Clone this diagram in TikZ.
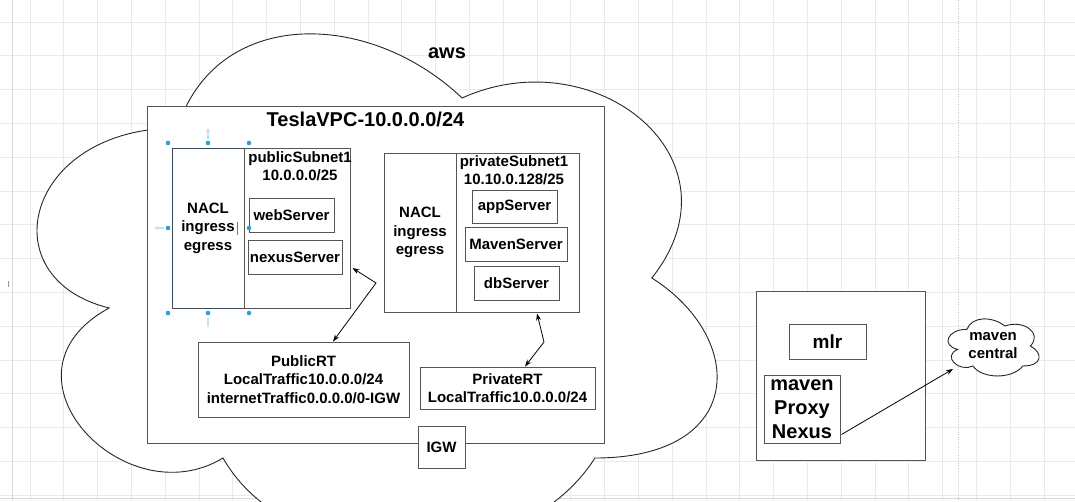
\documentclass[tikz,border=0pt]{standalone}
\usepackage{fontspec}
\setmainfont{Liberation Sans}
\usetikzlibrary{arrows.meta,calc}
\definecolor{gridc}{HTML}{EAEAEA}
\definecolor{hdl}{HTML}{2AA0D8}
\definecolor{hdlf}{HTML}{C6E2F1}
\definecolor{edge}{HTML}{555555}
\definecolor{naclc}{HTML}{3C4A58}
\newcommand{\mxcloud}[5]{%
 \draw[#1] ({#2+0.25*#4},{#3+0.25*#5})
 .. controls ({#2+0.05*#4},{#3+0.25*#5}) and ({#2},{#3+0.5*#5}) .. ({#2+0.16*#4},{#3+0.55*#5})
 .. controls ({#2},{#3+0.66*#5}) and ({#2+0.18*#4},{#3+0.9*#5}) .. ({#2+0.31*#4},{#3+0.8*#5})
 .. controls ({#2+0.4*#4},{#3+#5}) and ({#2+0.7*#4},{#3+#5}) .. ({#2+0.8*#4},{#3+0.8*#5})
 .. controls ({#2+#4},{#3+0.8*#5}) and ({#2+#4},{#3+0.6*#5}) .. ({#2+0.875*#4},{#3+0.5*#5})
 .. controls ({#2+#4},{#3+0.3*#5}) and ({#2+0.8*#4},{#3+0.1*#5}) .. ({#2+0.625*#4},{#3+0.2*#5})
 .. controls ({#2+0.5*#4},{#3+0.05*#5}) and ({#2+0.3*#4},{#3+0.05*#5}) .. cycle;}
\newcommand{\ftb}[2]{\fontsize{#1}{#2}\selectfont\bfseries}
\tikzset{
  boxn/.style={draw=edge, line width=1pt, fill=white, inner sep=0pt, align=center, font=\ftb{15}{18.5}},
  txt/.style={inner sep=0pt, align=center, font=\ftb{15}{18}},
  conn/.style={line width=0.8pt, black, >={Stealth[length=7pt,width=5pt]}},
  handle/.style={fill=hdl},
}
\begin{document}
\begin{tikzpicture}[x=1pt,y=-1pt]
\useasboundingbox (0,0) rectangle (1075,501);
\clip (0,0) rectangle (1075,501);
\fill[white] (0,0) rectangle (1075,501);
% grid
\foreach \i in {0,...,31} \draw[gridc, line width=0.8pt] ({-3.8+33.8*\i},0) -- ++(0,501);
\foreach \i in {0,...,14} \draw[gridc, line width=0.8pt] (0,{22+33.8*\i}) -- ++(1075,0);
\draw[black!22, line width=0.6pt, dotted] (958,0) -- (958,501);
\draw[black!15, line width=0.8pt] (12,0) -- (12,501);
\draw[black!15, line width=0.8pt] (0,498) -- (1075,498);
\draw[black!40, line width=0.6pt] (8,281) -- (8,287);

% big aws cloud
\mxcloud{fill=white, draw=black!85, line width=0.9pt}{-12.3}{-22}{759}{600}
\node[txt, font=\ftb{20}{24}, anchor=base] (aws) at (447,58) {aws};

% VPC
\node[boxn, minimum width=457pt, minimum height=337pt] (vpc) at (375.5,274.5) {};
\node[txt, font=\ftb{20}{24}, anchor=base] (vpctitle) at (365.5,126) {TeslaVPC-10.0.0.0/24};

% public subnet
\node[boxn, draw=naclc, minimum width=72pt, minimum height=160pt] (pubnacl) at (208,228) {NACL\\ingress\\egress};
\node[boxn, minimum width=106pt, minimum height=160pt] (pubsub) at (297,228) {};
\node[txt] (publabel) at (300,166.5) {publicSubnet1\\10.0.0.0/25};
\node[boxn, minimum width=85pt, minimum height=34pt] (web) at (291.5,215) {webServer};
\node[boxn, minimum width=94pt, minimum height=34pt] (nexusS) at (295,257) {nexusServer};

% selection handles
\foreach \p in {(168,143),(208,143),(249,143),(168,228),(249,228),(168,313),(208,313),(249,313)}
  \fill[handle] \p circle (2.3pt);
\draw[hdlf, line width=1.2pt, -{Stealth[length=4pt,width=4pt]}] (208,139) -- (208,128);
\draw[hdlf, line width=1.2pt, -{Stealth[length=4pt,width=4pt]}] (164,228) -- (154,228);
\draw[hdlf, line width=1.2pt] (208,318) -- (208,327);
\draw[black!55, line width=0.7pt] (237,222) -- (237,235);

% private subnet
\node[boxn, minimum width=72pt, minimum height=159pt] (privnacl) at (420,232.5) {NACL\\ingress\\egress};
\node[boxn, minimum width=123pt, minimum height=159pt] (privsub) at (517.5,232.5) {};
\node[txt] (privlabel) at (514,170) {privateSubnet1\\10.10.0.128/25};
\node[boxn, minimum width=85pt, minimum height=33pt] (app) at (514.5,206.5) {appServer};
\node[boxn, minimum width=102pt, minimum height=34pt] (mvn) at (516,244) {MavenServer};
\node[boxn, minimum width=85pt, minimum height=34pt] (db) at (516.5,283) {dbServer};

% route tables
\node[boxn, minimum width=211pt, minimum height=75pt] (pubrt) at (303.5,379.5) {PublicRT\\LocalTraffic10.0.0.0/24\\internetTraffic0.0.0.0/0-IGW};
\node[boxn, minimum width=175pt, minimum height=42pt] (privrt) at (507.5,388) {PrivateRT\\LocalTraffic10.0.0.0/24};
\node[boxn, minimum width=47pt, minimum height=42pt] (igw) at (441.5,447) {IGW};

% connectors
\coordinate (e1) at (376,283);
\draw[conn, <->] ($(pubsub.east)+(2,40)$) -- (e1) -- ($(pubrt.north)+(29.5,0)$);
\coordinate (e2) at (544,342);
\draw[conn, <->] ($(privsub.south)+(19.5,1)$) -- (e2) -- ($(privrt.north)+(17.5,0)$);

% right side
\node[boxn, minimum width=169pt, minimum height=169pt] (rbox) at (840.5,375.5) {};
\node[boxn, font=\ftb{19}{23}, minimum width=77pt, minimum height=35pt] (mlr) at (827.5,341.5) {mlr};
\node[boxn, font=\ftb{20}{24}, minimum width=76pt, minimum height=68pt] (nexus) at (802,409) {maven\\Proxy\\Nexus};

\mxcloud{fill=white, draw=black!85, line width=0.9pt}{941.4}{312.7}{101.7}{66.6}
\node[txt] (central) at (993,346) {maven\\central};
\coordinate (cin) at (953,369);
\draw[conn, ->] ($(nexus.south east)+(1,-9)$) -- (cin);
\end{tikzpicture}
\end{document}
